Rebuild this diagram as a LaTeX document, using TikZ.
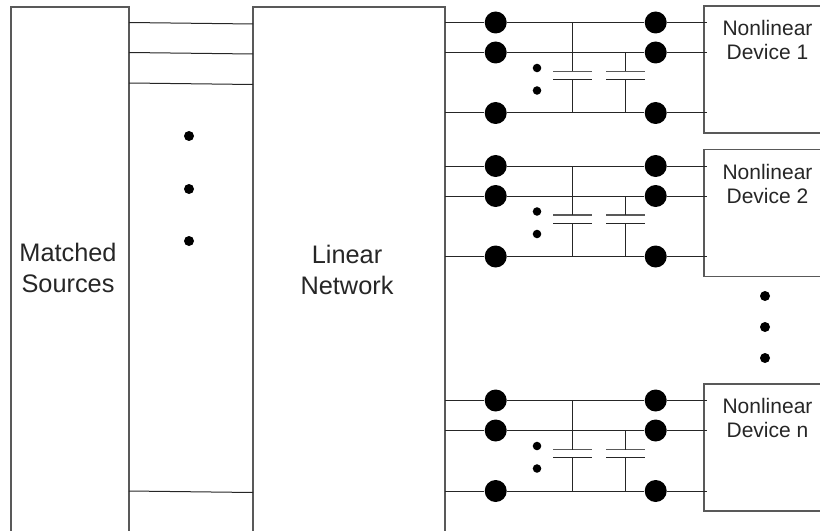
\documentclass[tikz,border=0pt]{standalone}
\usepackage{fontspec}
\setmainfont{Liberation Sans}
\tikzset{
	blockbox/.style={rectangle,inner sep=0pt,outer sep=0pt},
	bigtext/.style={align=center,text=black!85,font=\fontsize{19}{23.2}\selectfont},
	devtext/.style={align=center,text=black!85,font=\fontsize{15.75}{18}\selectfont},
	bigdot/.style={circle,fill=black,inner sep=0pt,minimum size=16.5pt},
	smalldot/.style={circle,fill=black,inner sep=0pt,minimum size=6.4pt},
	plate/.style={rectangle,inner sep=0pt,outer sep=0pt,minimum width=29.25pt,minimum height=6pt},
	wire/.style={line width=.75pt,black!85},
	edge/.style={line width=.9pt,black!65}
}
\begin{document}
\begin{tikzpicture}[x=.75pt,y=-.75pt]
	\useasboundingbox (0,0) rectangle (820,531);

	\node[blockbox,minimum width=88.5pt,minimum height=393pt] (sources) at (70,269) {};
	\node[blockbox,minimum width=144pt,minimum height=393pt] (network) at (349,269) {};
	\node[bigtext] (sources_t) at (68,268) {Matched\\Sources};
	\node[bigtext] (network_t) at (347,269.5) {Linear\\Network};

	\draw[edge] (sources.south west) -- (sources.north west) -- (sources.north east) -- (sources.south east);
	\draw[edge] (network.south west) -- (network.north west) -- (network.north east) -- (network.south east);

	% lines between the two large blocks
	\foreach \n/\ya/\yb in {a/22.5/24,b/52.5/54,c/83/84.5,d/491/492.5} {
		\coordinate (src_\n) at (129,\ya);
		\coordinate (net_\n) at (253,\yb);
		\draw[wire] (src_\n) -- (net_\n);
	}

	\foreach \n/\y in {a/136,b/189,c/241}
		\node[smalldot,minimum size=7.5pt] (gap_\n) at (189,\y) {};

	% one group per device
	\foreach \n/\yoff/\lab in {1/0/1,2/143.5/2,3/378/n} {
		\begin{scope}[shift={(0,\yoff)}]
			\node[blockbox,minimum width=87pt,minimum height=95.25pt] (dev\n) at (762,69.5) {};
			\node[devtext] (dev\n_t) at (767.5,40) {Nonlinear\\Device \lab};
			\draw[edge] (dev\n.north east) -- (dev\n.north west) -- (dev\n.south west) -- (dev\n.south east);

			\foreach \m/\y in {a/22.5,b/52.5,c/113} {
				\node[bigdot] (l\n\m) at (495.7,\y) {};
				\node[bigdot] (r\n\m) at (655.7,\y) {};
				\draw[wire] (network.east |- l\n\m) -- (l\n\m) -- (r\n\m) -- ([xshift=2pt]dev\n.west |- r\n\m);
			}

			\node[smalldot] (s\n a) at (537,68) {};
			\node[smalldot] (s\n b) at (537,90.5) {};

			\node[plate] (c\n a) at (572.7,75.5) {};
			\node[plate] (c\n b) at (625.7,75.5) {};
			\foreach \m in {a,b} {
				\draw[edge] (c\n\m.north west) -- (c\n\m.north east);
				\draw[wire] (c\n\m.south west) -- (c\n\m.south east);
				\draw[wire] (c\n\m.south) -- (c\n\m.south |- l\n c);
			}
			\draw[wire] (c\n a.north) -- (c\n a.north |- l\n a);
			\draw[wire] (c\n b.north) -- (c\n b.north |- l\n b);
		\end{scope}
	}

	\foreach \n/\y in {a/296,b/327,c/358}
		\node[smalldot,minimum size=7.5pt] (more_\n) at (765,\y) {};

\end{tikzpicture}
\end{document}
